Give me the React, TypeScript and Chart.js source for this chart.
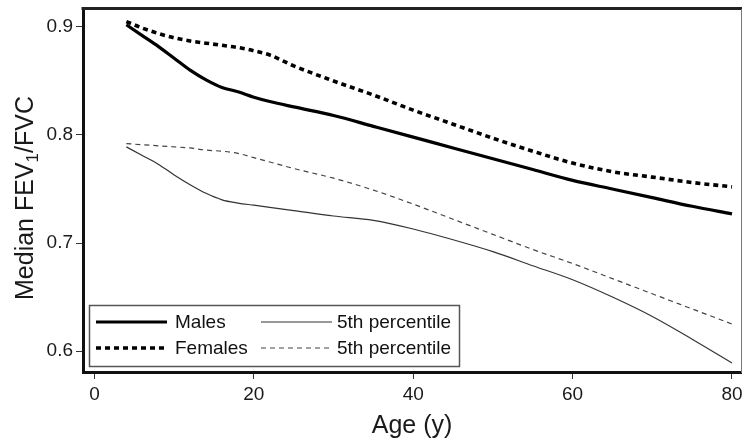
import React, { useEffect, useRef } from 'react';
import { Chart, registerables } from 'chart.js';

Chart.register(...registerables);

// Age in years
const ages = [4, 6, 8, 10, 12, 14, 16, 18, 20, 22, 25, 30, 35, 40, 45, 50, 55, 60, 65, 70, 75, 80];
const malesMedian = [0.902, 0.892, 0.882, 0.871, 0.860, 0.851, 0.844, 0.840, 0.835, 0.831, 0.826, 0.818, 0.808, 0.798, 0.788, 0.778, 0.768, 0.758, 0.750, 0.742, 0.734, 0.727];
const femalesMedian = [0.905, 0.899, 0.894, 0.890, 0.887, 0.885, 0.883, 0.881, 0.878, 0.874, 0.864, 0.850, 0.837, 0.823, 0.810, 0.797, 0.785, 0.774, 0.766, 0.761, 0.756, 0.752];
const males5th = [0.789, 0.781, 0.773, 0.763, 0.754, 0.746, 0.740, 0.737, 0.735, 0.733, 0.730, 0.725, 0.721, 0.713, 0.703, 0.692, 0.679, 0.666, 0.650, 0.632, 0.611, 0.589];
const females5th = [0.792, 0.791, 0.790, 0.789, 0.788, 0.786, 0.785, 0.783, 0.779, 0.775, 0.769, 0.760, 0.749, 0.736, 0.722, 0.708, 0.694, 0.681, 0.667, 0.653, 0.639, 0.625];

const seriesLabels = ['Males', 'Females', '5th percentile', '5th percentile'];
const xTickValues = [0, 20, 40, 60, 80];
const yTickValues = [0.6, 0.7, 0.8, 0.9];
const xTitle = 'Age (y)';
const yTitleParts = ['Median FEV', '1', '/FVC'];

const FONT = '"Liberation Sans", Arial, Helvetica, sans-serif';

const styles = [
  { color: '#000', width: 3.2, dash: [] as number[] },
  { color: '#000', width: 3.6, dash: [5, 4] },
  { color: '#333', width: 1.2, dash: [] as number[] },
  { color: '#444', width: 1.2, dash: [5, 4] },
];

const framePlugin = {
  id: 'frameAndLegend',
  afterDraw(chart: any) {
    const ctx = chart.ctx;
    const ca = chart.chartArea;
    ctx.save();
    // top border (thick) and right border (thin)
    ctx.strokeStyle = '#222';
    ctx.lineWidth = 3;
    ctx.beginPath();
    ctx.moveTo(ca.left - 1.5, ca.top - 1.5);
    ctx.lineTo(ca.right + 1, ca.top - 1.5);
    ctx.stroke();
    ctx.strokeStyle = '#777';
    ctx.lineWidth = 1;
    ctx.beginPath();
    ctx.moveTo(ca.right + 0.5, ca.top - 1);
    ctx.lineTo(ca.right + 0.5, ca.bottom + 1);
    ctx.stroke();

    // legend box
    const bx = ca.left + 6;
    const by = ca.bottom - 67;
    const bw = 370;
    const bh = 61;
    ctx.fillStyle = '#fff';
    ctx.fillRect(bx, by, bw, bh);
    ctx.strokeStyle = '#555';
    ctx.lineWidth = 1.5;
    ctx.strokeRect(bx + 0.5, by + 0.5, bw, bh);

    const rows = [by + 17, by + 43];
    const cols = [bx + 7, bx + 172];
    const lineLen = 71;
    ctx.font = `19px ${FONT}`;
    ctx.textBaseline = 'middle';
    ctx.textAlign = 'left';
    ctx.fillStyle = '#111';
    for (let i = 0; i < 4; i++) {
      const col = i < 2 ? 0 : 1;
      const row = i % 2;
      const x0 = cols[col];
      const y0 = rows[row];
      const s = styles[i];
      ctx.strokeStyle = s.color;
      ctx.lineWidth = s.width;
      ctx.setLineDash(s.dash);
      ctx.beginPath();
      ctx.moveTo(x0, y0);
      ctx.lineTo(x0 + lineLen, y0);
      ctx.stroke();
      ctx.setLineDash([]);
      ctx.fillText(seriesLabels[i], x0 + lineLen + (col === 0 ? 8 : 5), y0 + 1);
    }

    // y axis title with subscript
    const big = `25px ${FONT}`;
    const small = `17px ${FONT}`;
    ctx.font = big;
    const w0 = ctx.measureText(yTitleParts[0]).width;
    const w2 = ctx.measureText(yTitleParts[2]).width;
    ctx.font = small;
    const w1 = ctx.measureText(yTitleParts[1]).width;
    const total = w0 + w1 + w2;
    ctx.translate(33, (ca.top + ca.bottom) / 2 + 7);
    ctx.rotate(-Math.PI / 2);
    ctx.textBaseline = 'alphabetic';
    ctx.fillStyle = '#1a1a1a';
    let x = -total / 2;
    ctx.font = big;
    ctx.fillText(yTitleParts[0], x, 0);
    x += w0;
    ctx.font = small;
    ctx.fillText(yTitleParts[1], x, 5);
    x += w1;
    ctx.font = big;
    ctx.fillText(yTitleParts[2], x, 0);
    ctx.restore();
  },
};

export default function App() {
  const ref = useRef<HTMLCanvasElement | null>(null);
  useEffect(() => {
    if (!ref.current) return;
    const datasets = [malesMedian, femalesMedian, males5th, females5th].map((vals, i) => ({
      label: seriesLabels[i],
      data: ages.map((a, j) => ({ x: a, y: vals[j] })),
      borderColor: styles[i].color,
      borderWidth: styles[i].width,
      borderDash: styles[i].dash,
      pointRadius: 0,
      fill: false,
      cubicInterpolationMode: 'monotone' as const,
      order: i < 2 ? 0 : 1,
    }));
    const chart = new Chart(ref.current, {
      type: 'line',
      data: { datasets },
      plugins: [framePlugin],
      options: {
        animation: false,
        responsive: false,
        devicePixelRatio: 1,
        layout: { padding: { top: 10, right: 2, left: 0, bottom: 0 } },
        plugins: { legend: { display: false }, tooltip: { enabled: false } },
        scales: {
          x: {
            type: 'linear',
            min: -1.44,
            max: 81.13,
            afterBuildTicks: (s: any) => {
              s.ticks = xTickValues.map((v) => ({ value: v }));
            },
            afterFit: (s: any) => {
              s.height = 68;
              s.paddingLeft = 0;
              s.paddingRight = 0;
            },
            ticks: { font: { size: 19, family: FONT }, color: '#1a1a1a', padding: 4, maxRotation: 0 },
            grid: { drawOnChartArea: false, drawTicks: true, tickLength: 7, color: '#333', lineWidth: 1 },
            border: { display: true, width: 3, color: '#111' },
            title: { display: true, text: xTitle, font: { size: 25, family: FONT }, color: '#1a1a1a', padding: { top: 0, bottom: -1 } },
          },
          y: {
            type: 'linear',
            min: 0.5806,
            max: 0.9157,
            afterBuildTicks: (s: any) => {
              s.ticks = yTickValues.map((v) => ({ value: v }));
            },
            afterFit: (s: any) => {
              s.width = 83;
              s.paddingTop = 0;
              s.paddingBottom = 0;
            },
            ticks: {
              font: { size: 19, family: FONT },
              color: '#1a1a1a',
              padding: 3,
              callback: (v: any) => Number(v).toFixed(1),
            },
            grid: { drawOnChartArea: false, drawTicks: true, tickLength: 7, color: '#333', lineWidth: 1 },
            border: { display: true, width: 3, color: '#111' },
          },
        },
      },
    });
    return () => chart.destroy();
  }, []);
  return (
    <div style={{ position: 'fixed', left: 0, top: 0, width: 743, height: 440, background: '#fff' }}>
      <canvas ref={ref} width={743} height={440} style={{ display: 'block', width: 743, height: 440 }} />
    </div>
  );
}
